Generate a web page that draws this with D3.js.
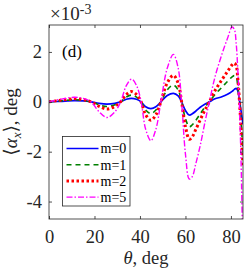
<!DOCTYPE html>
<html>
<head>
<meta charset="utf-8">
<script src="https://cdn.jsdelivr.net/npm/d3@7"></script>
<style>
    body { margin: 0; background: #fff; }
    svg { display: block; font-family: "Liberation Serif", "DejaVu Serif", serif; }
</style>
</head>
<body>
<svg id="chart" width="245" height="270"></svg>
<script>
/* values, y in units of 1e-3 deg */
const theta = [0, 5, 11, 15, 18.5, 22, 25.5, 29, 31.5, 34, 36.3, 38.5, 40.5, 42.5, 44.8, 47, 49.2, 52, 54.7, 56.8,
    58.3, 60, 61.7, 63, 64.5, 66.5, 68.5, 70.5, 73, 76, 78.5, 80.5, 81.5, 82.3, 83, 83.7, 84.5, 85.3];
const alphaM0 = [0, 0.02, 0.045, 0.035, 0, -0.06, -0.09, -0.06, 0, 0.1, 0.14, 0.1, 0, -0.2, -0.27, -0.2, 0, 0.25, 0.34, 0.24,
    0, -0.35, -0.53, -0.48, -0.38, -0.22, -0.1, 0, 0.12, 0.2, 0.3, 0.42, 0.5, 0.54, 0.45, 0.1, -0.4, -0.9];
const alphaM1 = [0, 0.04, 0.08, 0.06, 0, -0.12, -0.19, -0.12, 0, 0.19, 0.27, 0.19, 0, -0.33, -0.47, -0.33, 0, 0.48, 0.67, 0.47,
    0, -0.68, -1.0, -0.92, -0.75, -0.48, -0.22, 0, 0.3, 0.58, 0.82, 1.0, 1.05, 1.0, 0.65, 0.05, -0.9, -2.0];
const alphaM2 = [0, 0.06, 0.12, 0.09, 0, -0.18, -0.29, -0.18, 0, 0.29, 0.41, 0.29, 0, -0.52, -0.74, -0.52, 0, 0.76, 1.06, 0.74,
    0, -1.0, -1.5, -1.4, -1.12, -0.72, -0.34, 0, 0.45, 0.88, 1.22, 1.48, 1.55, 1.45, 0.95, 0.1, -1.2, -2.6];
const alphaM5 = [0, 0.1, 0.18, 0.14, 0, -0.4, -0.63, -0.4, 0, 0.65, 0.91, 0.65, 0, -1.1, -1.56, -1.1, 0, 1.35, 1.9, 1.35,
    0, -2.1, -3.1, -3.0, -2.5, -1.75, -0.85, 0, 1.0, 1.9, 2.55, 3.0, 2.9, 2.35, 1.3, -0.1, -2.6, -6.5];
const seriesNames = ["m=0", "m=1", "m=2", "m=5"];
const xTicks = [0, 20, 40, 60, 80];
const yTicks = [-4, -2, 0, 2];

const seriesStyle = [
    { color: "#0000ff", width: 1.7, dash: null },
    { color: "#008000", width: 1.6, dash: "5,4" },
    { color: "#ff0000", width: 3, dash: "2.5,2.5" },
    { color: "#ff00ff", width: 1.4, dash: "6,2,1.5,2" }
];
const axisColor = "#262626";

const svg = d3.select("#chart");
const x = d3.scaleLinear().domain([0, 85.3]).range([49, 243]);
const y = d3.scaleLinear().domain([-4.7, 3.08]).range([219, 25]);

svg.append("defs").append("clipPath").attr("id", "plot-clip")
    .append("rect")
    .attr("x", x.range()[0]).attr("y", y.range()[1])
    .attr("width", x.range()[1] - x.range()[0]).attr("height", y.range()[0] - y.range()[1]);

// curves
const series = [alphaM0, alphaM1, alphaM2, alphaM5].map((vals, i) => ({
    name: seriesNames[i],
    style: seriesStyle[i],
    points: theta.map((t, j) => [t, vals[j]])
}));

const line = d3.line()
    .x(d => x(d[0]))
    .y(d => y(d[1]))
    .curve(d3.curveCatmullRom.alpha(0.5));

svg.append("g").attr("clip-path", "url(#plot-clip)")
    .selectAll("path")
    .data(series)
    .join("path")
    .attr("d", d => line(d.points))
    .attr("fill", "none")
    .attr("stroke", d => d.style.color)
    .attr("stroke-width", d => d.style.width)
    .attr("stroke-dasharray", d => d.style.dash);

// axes, ticks inside on all four sides
function styleAxis(g) {
    g.select(".domain").remove();
    g.selectAll(".tick line").attr("stroke", axisColor).attr("stroke-width", 0.8);
    g.selectAll(".tick text").attr("fill", axisColor).attr("font-size", 18.5)
        .attr("font-family", "Liberation Serif, DejaVu Serif, serif");
}

svg.append("g")
    .attr("transform", `translate(0,${y.range()[0]})`)
    .call(d3.axisBottom(x).tickValues(xTicks).tickSize(-3).tickPadding(11).tickFormat(d => String(d)))
    .call(styleAxis);
svg.append("g")
    .attr("transform", `translate(0,${y.range()[1]})`)
    .call(d3.axisTop(x).tickValues(xTicks).tickSize(-3).tickFormat(""))
    .call(styleAxis);
svg.append("g")
    .attr("transform", `translate(${x.range()[0]},0)`)
    .call(d3.axisLeft(y).tickValues(yTicks).tickSize(-3).tickPadding(7).tickFormat(d => String(d)))
    .call(styleAxis);
svg.append("g")
    .attr("transform", `translate(${x.range()[1]},0)`)
    .call(d3.axisRight(y).tickValues(yTicks).tickSize(-3).tickFormat(""))
    .call(styleAxis);

svg.append("rect")
    .attr("x", x.range()[0]).attr("y", y.range()[1])
    .attr("width", x.range()[1] - x.range()[0]).attr("height", y.range()[0] - y.range()[1])
    .attr("fill", "none").attr("stroke", axisColor).attr("stroke-width", 0.8);

// exponent label
const expo = svg.append("text").attr("x", 50).attr("y", 20).attr("fill", axisColor).attr("font-size", 19);
expo.append("tspan").text("\u00d710");
expo.append("tspan").attr("font-size", 14).attr("dy", -6).text("-3");

// panel tag
svg.append("text").attr("x", 62).attr("y", 57).attr("font-size", 17).attr("fill", "#000").text("(d)");

// axis titles
const xTitle = svg.append("text")
    .attr("x", (x.range()[0] + x.range()[1]) / 2).attr("y", 264)
    .attr("text-anchor", "middle").attr("font-size", 18.5).attr("fill", axisColor);
xTitle.append("tspan").attr("font-style", "italic").text("\u03b8");
xTitle.append("tspan").text(", deg");

const yTitle = svg.append("text")
    .attr("transform", `translate(17,${(y.range()[0] + y.range()[1]) / 2}) rotate(-90)`)
    .attr("text-anchor", "middle").attr("font-size", 19).attr("fill", axisColor);
yTitle.append("tspan").text("\u27e8");
yTitle.append("tspan").attr("font-style", "italic").text("\u03b1");
yTitle.append("tspan").attr("font-style", "italic").attr("font-size", 13).attr("dy", 4).text("x");
yTitle.append("tspan").attr("dy", -4).text("\u27e9, deg");

// legend
const legend = svg.append("g").attr("transform", "translate(62.5,136.5)");
legend.append("rect")
    .attr("width", 67.5).attr("height", 69.5)
    .attr("fill", "#fff").attr("stroke", axisColor).attr("stroke-width", 0.8);
const entry = legend.selectAll("g.entry")
    .data(series)
    .join("g")
    .attr("class", "entry")
    .attr("transform", (d, i) => `translate(0,${12 + i * 16.2})`);
entry.append("line")
    .attr("x1", 4).attr("x2", 36)
    .attr("stroke", d => d.style.color)
    .attr("stroke-width", d => d.style.width)
    .attr("stroke-dasharray", d => d.style.dash);
entry.append("text")
    .attr("x", 38).attr("dy", "0.35em")
    .attr("font-size", 14).attr("fill", "#000")
    .text(d => d.name);
</script>
</body>
</html>
